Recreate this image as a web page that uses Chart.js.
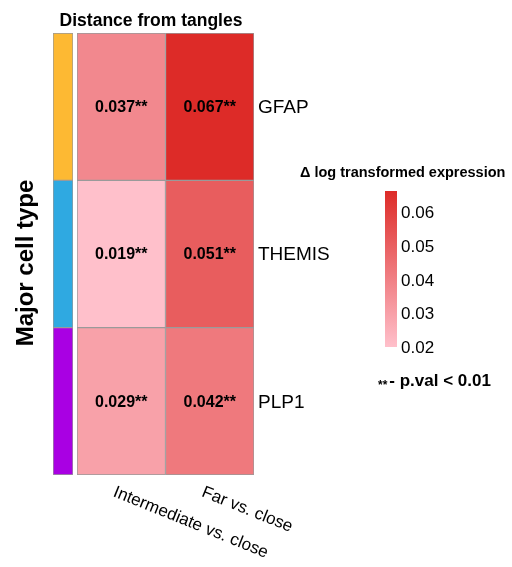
<!DOCTYPE html>
<html>
<head>
<meta charset="utf-8">
<script src="https://cdn.jsdelivr.net/npm/chart.js@4/dist/chart.umd.min.js"></script>
<style>
  html, body { margin: 0; padding: 0; background: #fff; }
  #wrap { position: relative; width: 512px; height: 567px; }
  #wrap canvas { position: absolute; left: 0; top: 0; }
</style>
</head>
<body>
<div id="wrap">
  <canvas id="heat" width="512" height="567"></canvas>
  <canvas id="side" width="512" height="567"></canvas>
  <canvas id="scale" width="512" height="567"></canvas>
</div>
<script>
// data
const columns = ['Intermediate vs. close', 'Far vs. close'];
const rows = ['GFAP', 'THEMIS', 'PLP1'];
const gfapValues = [0.037, 0.067];
const themisValues = [0.019, 0.051];
const plp1Values = [0.029, 0.042];
const stars = [['**', '**'], ['**', '**'], ['**', '**']];
const cellTypeColors = ['#FDB933', '#2FA9E1', '#A900E3'];
const legendTicks = [0.02, 0.03, 0.04, 0.05, 0.06];
const legendRange = [0.0205, 0.0665];

const FONT = '"Liberation Sans", Arial, Helvetica, sans-serif';
const GRID = '#9a9a9a';
const LOW = [255, 192, 203], HIGH = [221, 43, 40];
const vMin = 0.019, vMax = 0.067;

function colorFor(v) {
  let t = (v - vMin) / (vMax - vMin);
  t = Math.max(0, Math.min(1, t));
  const c = LOW.map((l, i) => Math.round(l + (HIGH[i] - l) * t));
  return `rgb(${c[0]},${c[1]},${c[2]})`;
}

const rowValues = [gfapValues, themisValues, plp1Values];

// labels and titles drawn around the heatmap
const textPlugin = {
  id: 'texts',
  afterDatasetsDraw(chart) {
    const { ctx, scales: { x, y } } = chart;
    ctx.save();
    ctx.fillStyle = '#000';

    // numbers in the cells
    ctx.font = 'bold 16px ' + FONT;
    ctx.textAlign = 'center';
    ctx.textBaseline = 'middle';
    chart.data.datasets.forEach((ds, i) => {
      chart.getDatasetMeta(i).data.forEach((bar, j) => {
        ctx.fillText(ds.values[j].toFixed(3) + stars[i][j], bar.x, (bar.y + bar.base) / 2 + 1);
      });
    });

    // row names
    ctx.font = '19px ' + FONT;
    ctx.textAlign = 'left';
    rows.forEach((r, i) => ctx.fillText(r, chart.chartArea.right + 4, y.getPixelForValue(i + 0.5) + 1));

    // column names, slanted
    ctx.font = '17px ' + FONT;
    ctx.textBaseline = 'alphabetic';
    columns.forEach((c, j) => {
      ctx.save();
      ctx.translate(x.getPixelForValue(j) - 9, 496);
      ctx.rotate(22 * Math.PI / 180);
      ctx.fillText(c, 0, 0);
      ctx.restore();
    });

    // title
    ctx.font = 'bold 17.5px ' + FONT;
    ctx.textAlign = 'center';
    ctx.fillText('Distance from tangles', 151, 26);

    // y title
    ctx.save();
    ctx.font = 'bold 24px ' + FONT;
    ctx.translate(33, 263);
    ctx.rotate(-Math.PI / 2);
    ctx.fillText('Major cell type', 0, 0);
    ctx.restore();

    // legend title
    ctx.font = 'bold 14.5px ' + FONT;
    ctx.textAlign = 'left';
    ctx.textBaseline = 'middle';
    ctx.fillText('\u0394 log transformed expression', 300, 173);

    // p-value note
    ctx.textBaseline = 'alphabetic';
    ctx.font = 'bold 12px ' + FONT;
    ctx.fillText('**', 378, 389);
    const w = ctx.measureText('**').width;
    ctx.font = 'bold 17px ' + FONT;
    ctx.fillText('- p.val < 0.01', 378 + w + 2, 386);

    ctx.restore();
  }
};

new Chart(document.getElementById('heat'), {
  type: 'bar',
  data: {
    labels: columns,
    datasets: rows.map((r, i) => ({
      label: r,
      values: rowValues[i],
      data: rowValues[i].map(() => 1),
      backgroundColor: rowValues[i].map(colorFor),
      borderColor: GRID,
      borderWidth: 1,
      borderSkipped: false,
      barPercentage: 1,
      categoryPercentage: 1
    }))
  },
  options: {
    responsive: false,
    animation: false,
    layout: { padding: { left: 77, right: 258, top: 33, bottom: 92 } },
    plugins: { legend: { display: false }, tooltip: { enabled: false } },
    scales: {
      x: { display: false, stacked: true },
      y: { display: false, stacked: true, reverse: true, min: 0, max: 3 }
    }
  },
  plugins: [textPlugin]
});

// cell type strip on the left
new Chart(document.getElementById('side'), {
  type: 'bar',
  data: {
    labels: [''],
    datasets: rows.map((r, i) => ({
      label: r,
      data: [1],
      backgroundColor: cellTypeColors[i],
      borderColor: GRID,
      borderWidth: 1,
      borderSkipped: false,
      barPercentage: 1,
      categoryPercentage: 1
    }))
  },
  options: {
    responsive: false,
    animation: false,
    layout: { padding: { left: 53, right: 439, top: 33, bottom: 92 } },
    plugins: { legend: { display: false }, tooltip: { enabled: false } },
    scales: {
      x: { display: false, stacked: true },
      y: { display: false, stacked: true, reverse: true, min: 0, max: 3 }
    }
  }
});

// colour key
new Chart(document.getElementById('scale'), {
  type: 'bar',
  data: {
    labels: [''],
    datasets: [{
      data: [legendRange],
      backgroundColor(c) {
        const { chart } = c;
        const ys = chart.scales.y;
        if (!chart.chartArea || !ys) return colorFor(vMax);
        const g = chart.ctx.createLinearGradient(0, ys.getPixelForValue(legendRange[0]), 0, ys.getPixelForValue(legendRange[1]));
        g.addColorStop(0, colorFor(vMin));
        g.addColorStop(0.95, colorFor(0.0645));
        g.addColorStop(1, colorFor(vMax));
        return g;
      },
      borderWidth: 0,
      barPercentage: 1,
      categoryPercentage: 1
    }]
  },
  options: {
    responsive: false,
    animation: false,
    layout: { padding: { left: 385, right: 75, top: 191, bottom: 220 } },
    plugins: { legend: { display: false }, tooltip: { enabled: false } },
    scales: {
      x: { display: false },
      y: {
        position: 'right',
        min: legendRange[0],
        max: legendRange[1],
        grid: { display: false, drawTicks: false },
        border: { display: false },
        afterFit(s) { s.width = 40; },
        afterBuildTicks(s) { s.ticks = legendTicks.map(v => ({ value: v })); },
        ticks: {
          padding: 4,
          color: '#000',
          font: { family: FONT, size: 17 },
          callback: v => v.toFixed(2)
        }
      }
    }
  }
});
</script>
</body>
</html>
